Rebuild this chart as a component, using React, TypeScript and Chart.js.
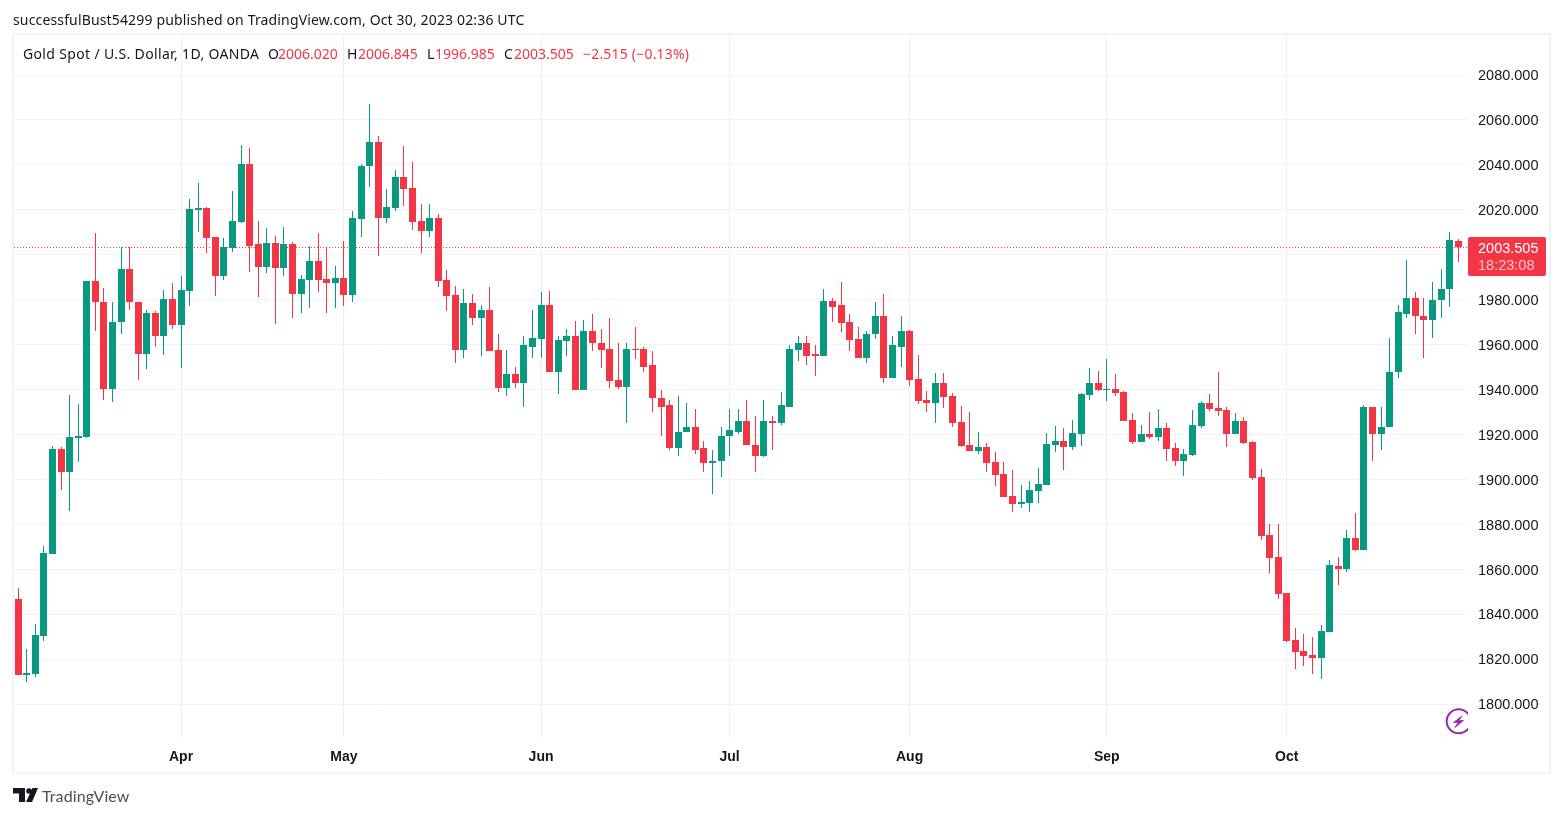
import React, { useEffect, useRef } from "react";
import { Chart, registerables } from "chart.js";

Chart.register(...registerables);

const opens = [
  1847.0, 1813.2, 1813.6, 1830.6, 1867.0, 1913.8, 1903.5, 1918.6, 1919.1, 1988.5,
  1979.2, 1940.4, 1969.9, 1993.9, 1979.2, 1956.1, 1974.3, 1964.0, 1980.5, 1969.0,
  1984.1, 2020.1, 2021.0, 2008.1, 1990.8, 2003.2, 2014.8, 2040.6, 2004.6, 1994.8,
  2005.4, 1994.3, 2004.6, 1982.8, 1989.0, 1997.4, 1989.4, 1987.6, 1989.9, 1982.3,
  2016.1, 2039.3, 2050.4, 2016.6, 2021.0, 2034.8, 2029.9, 2015.2, 2010.8, 2016.6,
  1989.0, 1982.3, 1957.5, 1978.4, 1971.7, 1975.3, 1957.5, 1940.6, 1947.2, 1942.8,
  1959.2, 1962.4, 1977.9, 1948.1, 1961.5, 1963.7, 1939.7, 1965.9, 1961.0, 1957.9,
  1944.1, 1941.0, 1958.3, 1957.9, 1950.8, 1936.5, 1933.0, 1913.9, 1921.0, 1923.6,
  1913.9, 1907.6, 1908.1, 1919.2, 1921.4, 1926.3, 1915.6, 1910.7, 1925.9, 1925.4,
  1932.5, 1957.5, 1961.0, 1955.7, 1954.8, 1979.3, 1977.5, 1969.9, 1962.4, 1954.3,
  1964.6, 1972.6, 1945.0, 1959.2, 1965.9, 1944.6, 1935.3, 1933.9, 1942.8, 1937.0,
  1925.5, 1915.2, 1912.6, 1914.3, 1907.7, 1902.3, 1892.5, 1889.0, 1889.4, 1894.8,
  1897.4, 1915.2, 1917.0, 1914.3, 1920.1, 1937.5, 1942.8, 1939.7, 1940.1, 1938.8,
  1926.4, 1916.6, 1920.1, 1918.8, 1922.8, 1913.9, 1908.1, 1910.8, 1923.7, 1933.9,
  1931.7, 1930.8, 1920.1, 1925.9, 1916.6, 1901.0, 1875.2, 1865.4, 1849.4, 1828.5,
  1823.6, 1821.8, 1820.5, 1832.0, 1861.5, 1860.1, 1873.9, 1868.6, 1932.5, 1920.1,
  1923.2, 1947.7, 1973.9, 1981.0, 1973.0, 1970.8, 1979.7, 1984.6, 2006.02,
];

const highs = [
  1851.9, 1824.8, 1835.9, 1870.6, 1915.1, 1914.6, 1937.8, 1933.8, 1988.5, 2009.9,
  1985.4, 1979.2, 2003.5, 2003.5, 1979.2, 1975.6, 1974.9, 1984.5, 1987.6, 1990.8,
  2025.0, 2032.1, 2021.5, 2008.1, 2007.7, 2028.6, 2049.0, 2047.7, 2015.2, 2012.1,
  2008.6, 2012.6, 2005.9, 1991.2, 2004.1, 2009.5, 2003.7, 1995.2, 2006.3, 2019.7,
  2040.6, 2067.3, 2053.0, 2029.5, 2037.9, 2048.2, 2041.5, 2022.8, 2022.4, 2018.3,
  1993.4, 1986.3, 1984.6, 1982.8, 1977.9, 1985.5, 1965.0, 1957.5, 1949.9, 1963.7,
  1975.3, 1983.3, 1983.7, 1964.1, 1966.8, 1970.4, 1970.8, 1973.5, 1967.2, 1971.7,
  1960.6, 1960.6, 1968.1, 1959.2, 1957.0, 1939.7, 1935.2, 1937.4, 1933.9, 1931.2,
  1917.4, 1913.4, 1923.2, 1931.2, 1931.2, 1935.2, 1928.1, 1935.2, 1928.5, 1938.8,
  1960.1, 1964.1, 1964.1, 1960.1, 1984.6, 1981.0, 1987.7, 1973.9, 1968.1, 1965.9,
  1978.8, 1982.4, 1963.7, 1972.6, 1966.4, 1955.3, 1939.3, 1947.3, 1947.3, 1938.4,
  1932.6, 1930.3, 1921.0, 1916.2, 1912.1, 1907.7, 1904.1, 1897.4, 1899.2, 1905.0,
  1920.6, 1923.7, 1922.8, 1926.4, 1938.4, 1949.5, 1948.2, 1953.5, 1946.8, 1939.3,
  1929.5, 1924.1, 1929.9, 1931.2, 1925.0, 1916.1, 1913.5, 1930.8, 1934.8, 1937.9,
  1947.7, 1932.1, 1929.5, 1927.7, 1917.0, 1904.6, 1880.1, 1880.1, 1849.4, 1833.8,
  1831.1, 1829.8, 1835.2, 1864.1, 1865.5, 1877.5, 1885.1, 1933.4, 1932.5, 1932.1,
  1962.8, 1977.9, 1997.5, 1983.3, 1981.0, 1987.7, 1993.9, 2010.0, 2006.845,
];

const lows = [
  1813.0, 1809.8, 1812.3, 1828.3, 1867.0, 1895.5, 1886.2, 1908.0, 1918.6, 1966.3,
  1935.5, 1934.7, 1965.0, 1975.6, 1944.4, 1949.4, 1959.1, 1955.6, 1967.2, 1949.8,
  1977.4, 2010.3, 2001.0, 1981.9, 1989.0, 2001.4, 2014.3, 1992.5, 1981.4, 1991.7,
  1969.4, 1990.8, 1972.1, 1974.3, 1976.5, 1983.6, 1974.3, 1976.5, 1977.4, 1978.8,
  2008.1, 2030.4, 1999.7, 2014.3, 2019.7, 2021.9, 2011.2, 2001.0, 2008.1, 1985.9,
  1975.2, 1952.1, 1954.3, 1969.0, 1954.8, 1957.0, 1939.2, 1937.0, 1940.6, 1932.5,
  1953.9, 1953.9, 1948.1, 1938.3, 1954.8, 1939.7, 1939.7, 1957.0, 1949.5, 1940.6,
  1940.1, 1925.4, 1953.5, 1948.1, 1930.3, 1919.6, 1913.0, 1910.7, 1921.0, 1911.2,
  1903.2, 1893.4, 1901.0, 1910.3, 1920.5, 1915.2, 1903.2, 1909.9, 1913.0, 1924.5,
  1932.5, 1952.6, 1951.2, 1946.3, 1954.8, 1969.9, 1965.5, 1957.0, 1953.9, 1952.1,
  1962.4, 1942.8, 1945.0, 1950.3, 1941.5, 1933.5, 1929.9, 1925.0, 1931.7, 1923.2,
  1914.3, 1912.6, 1911.2, 1903.2, 1897.0, 1892.1, 1885.4, 1887.2, 1885.4, 1889.4,
  1897.4, 1912.1, 1904.1, 1913.0, 1914.8, 1935.3, 1939.3, 1934.8, 1937.0, 1925.9,
  1915.7, 1916.6, 1917.9, 1917.0, 1908.1, 1905.9, 1901.4, 1910.3, 1922.8, 1930.4,
  1928.1, 1914.3, 1920.1, 1915.7, 1899.7, 1873.0, 1858.3, 1846.7, 1827.6, 1815.6,
  1816.9, 1813.4, 1811.1, 1832.0, 1853.0, 1858.8, 1868.2, 1868.6, 1908.5, 1913.0,
  1923.2, 1945.4, 1972.1, 1964.6, 1953.9, 1963.2, 1972.1, 1977.0, 1996.985,
];

const closes = [
  1813.2, 1814.1, 1831.0, 1867.5, 1913.8, 1903.5, 1919.1, 1919.5, 1988.5, 1978.8,
  1940.4, 1970.3, 1993.9, 1978.8, 1956.1, 1974.3, 1964.0, 1980.5, 1969.0, 1984.5,
  2020.6, 2021.0, 2007.7, 1990.8, 2003.7, 2015.2, 2040.6, 2004.1, 1994.8, 2005.4,
  1994.3, 2004.6, 1982.8, 1989.4, 1997.4, 1989.0, 1987.6, 1989.9, 1982.3, 2016.6,
  2039.7, 2050.4, 2016.6, 2021.5, 2034.8, 2029.5, 2014.8, 2010.8, 2016.6, 1988.5,
  1981.9, 1957.5, 1978.4, 1971.7, 1975.3, 1957.0, 1940.6, 1947.2, 1942.8, 1959.7,
  1962.8, 1977.9, 1948.1, 1961.9, 1963.7, 1939.7, 1965.9, 1960.6, 1957.5, 1943.7,
  1941.0, 1958.3, 1957.5, 1950.3, 1936.1, 1932.5, 1913.9, 1921.4, 1923.6, 1913.4,
  1907.6, 1908.5, 1919.6, 1921.9, 1926.3, 1915.2, 1910.7, 1925.9, 1925.4, 1933.0,
  1957.9, 1961.0, 1955.2, 1954.8, 1979.3, 1977.0, 1969.5, 1961.9, 1954.3, 1965.0,
  1972.6, 1945.0, 1959.7, 1965.9, 1944.2, 1934.8, 1933.9, 1942.8, 1936.6, 1925.0,
  1914.8, 1912.6, 1914.3, 1907.2, 1901.9, 1892.1, 1889.0, 1889.9, 1895.2, 1897.9,
  1915.7, 1917.0, 1914.3, 1920.6, 1937.9, 1942.8, 1939.7, 1940.1, 1938.4, 1925.9,
  1916.6, 1920.1, 1918.8, 1922.8, 1913.5, 1908.1, 1911.2, 1924.1, 1933.9, 1931.2,
  1930.4, 1920.1, 1925.9, 1916.1, 1900.6, 1874.7, 1865.0, 1848.9, 1828.0, 1823.1,
  1821.4, 1820.5, 1832.5, 1861.8, 1860.1, 1873.9, 1868.6, 1932.5, 1920.1, 1923.6,
  1948.1, 1974.4, 1981.0, 1972.6, 1970.8, 1980.1, 1985.0, 2006.4, 2003.505,
];

const monthLabels = ["Apr", "May", "Jun", "Jul", "Aug", "Sep", "Oct"];
const monthBars = [19, 38, 61, 83, 104, 127, 148];
const priceTicks = [1800, 1820, 1840, 1860, 1880, 1900, 1920, 1940, 1960, 1980, 2000, 2020, 2040, 2060, 2080];
const countdown = "18:23:08";

const UP = "#089981";
const DOWN = "#F23645";
const GRID_H = "#f2f2f4";
const GRID_V = "#eeeef1";
const TEXT = "#131722";
const AXIS_FONT = "'Liberation Sans', Arial, sans-serif";
const HEAD_FONT = "'Noto Sans', sans-serif";

const up = (i: number) => closes[i] >= opens[i];
const candleColors = closes.map((_, i) => (up(i) ? UP : DOWN));

const snapPlugin = {
  id: "snap",
  afterDatasetsUpdate(chart: any) {
    chart.data.datasets.forEach((ds: any, di: number) => {
      const meta = chart.getDatasetMeta(di);
      if (ds.type === "line") {
        meta.data.forEach((p: any) => {
          p.y = Math.round(p.y) + 0.5;
        });
        return;
      }
      meta.data.forEach((el: any) => {
        el.x = Math.floor(el.x) + 0.5;
        const top = Math.round(Math.min(el.y, el.base));
        let bottom = Math.round(Math.max(el.y, el.base));
        if (bottom - top < 1) bottom = top + 1;
        el.y = top;
        el.base = bottom;
        el.height = bottom - top;
      });
    });
  },
  beforeDraw(chart: any) {
    if (chart.$labelsNudged) return;
    chart.$labelsNudged = true;
    chart.scales.y.getLabelItems(chart.chartArea).forEach((item: any) => {
      item.options.translation[1] += 1;
    });
  },
};

const priceTagPlugin = {
  id: "priceTag",
  afterDraw(chart: any) {
    const { ctx, scales } = chart;
    const last = closes[closes.length - 1];
    const py = Math.round(scales.y.getPixelForValue(last));
    const left = chart.chartArea.right;
    ctx.save();
    ctx.fillStyle = DOWN;
    ctx.beginPath();
    ctx.roundRect(left, py - 10, 78, 39, [2, 2, 2, 2]);
    ctx.fill();
    ctx.textBaseline = "middle";
    ctx.textAlign = "left";
    ctx.font = `14.5px ${AXIS_FONT}`;
    ctx.fillStyle = "#ffffff";
    ctx.fillText(last.toFixed(3), left + 10, py + 2);
    ctx.fillStyle = "rgba(255,255,255,0.7)";
    ctx.fillText(countdown, left + 10, py + 19);
    ctx.restore();
  },
};

const headSegments = [
  { text: "Gold Spot / U.S. Dollar, 1D, OANDA", left: 23, color: TEXT, spacing: 0.35 },
  { text: "O", left: 268, color: TEXT, spacing: 0 },
  { text: opens[opens.length - 1].toFixed(3), left: 278, color: DOWN, spacing: 0 },
  { text: "H", left: 347, color: TEXT, spacing: 0 },
  { text: highs[highs.length - 1].toFixed(3), left: 358, color: DOWN, spacing: 0 },
  { text: "L", left: 427, color: TEXT, spacing: 0 },
  { text: lows[lows.length - 1].toFixed(3), left: 435, color: DOWN, spacing: 0 },
  { text: "C", left: 504, color: TEXT, spacing: 0 },
  { text: closes[closes.length - 1].toFixed(3), left: 514, color: DOWN, spacing: 0 },
  { text: "\u22122.515 (\u22120.13%)", left: 583, color: DOWN, spacing: 0.2 },
];

export default function App() {
  const ref = useRef<HTMLCanvasElement>(null);

  useEffect(() => {
    const n = closes.length;
    const xMin = -0.49;
    const xMax = 169.15;
    const last = closes[n - 1];
    const chart = new Chart(ref.current as HTMLCanvasElement, {
      type: "bar",
      data: {
        datasets: [
          {
            type: "line",
            data: [
              { x: xMin, y: last },
              { x: xMax, y: last },
            ],
            borderColor: DOWN,
            borderWidth: 1,
            borderDash: [1, 2],
            pointRadius: 0,
            order: 3,
          },
          {
            data: closes.map((_, i) => ({ x: i, y: [lows[i], highs[i]] })),
            backgroundColor: candleColors,
            barThickness: 1,
            grouped: false,
            borderWidth: 0,
            inflateAmount: 0,
            order: 2,
          },
          {
            data: closes.map((_, i) => ({ x: i, y: [opens[i], closes[i]] })),
            backgroundColor: candleColors,
            barThickness: 7,
            grouped: false,
            borderWidth: 0,
            inflateAmount: 0,
            order: 1,
          },
        ] as any,
      },
      options: {
        responsive: false,
        animation: false,
        devicePixelRatio: 1,
        events: [],
        layout: { padding: { left: 14, top: 35, right: 13, bottom: 45 } },
        plugins: { legend: { display: false }, tooltip: { enabled: false }, title: { display: false } },
        scales: {
          x: {
            type: "linear",
            offset: false,
            min: xMin,
            max: xMax,
            afterBuildTicks(scale: any) {
              scale.ticks = monthBars.map((value) => ({ value }));
            },
            afterFit(scale: any) {
              scale.height = 35;
            },
            grid: { color: GRID_V, lineWidth: 1, drawTicks: false, offset: false },
            border: { display: false },
            ticks: {
              autoSkip: false,
              maxRotation: 0,
              padding: 12,
              color: TEXT,
              font: { family: AXIS_FONT, size: 14, weight: "bold" },
              callback: (v: any) => monthLabels[monthBars.indexOf(v)] ?? "",
            },
          },
          y: {
            type: "linear",
            position: "right",
            min: 1785.5,
            max: 2097.8,
            afterBuildTicks(scale: any) {
              scale.ticks = priceTicks.map((value) => ({ value }));
            },
            afterFit(scale: any) {
              scale.width = 82;
            },
            grid: { color: GRID_H, lineWidth: 1, drawTicks: false },
            border: { display: false },
            ticks: {
              padding: 10,
              color: TEXT,
              font: { family: AXIS_FONT, size: 14.5 },
              callback: (v: any) => Number(v).toFixed(3),
            },
          },
        },
      } as any,
      plugins: [snapPlugin, priceTagPlugin],
    });
    return () => chart.destroy();
  }, []);

  return (
    <div style={{ position: "absolute", left: 0, top: 0, width: 1563, height: 817, background: "#fff", overflow: "hidden" }}>
      <canvas ref={ref} width={1563} height={817} style={{ position: "absolute", left: 0, top: 0, width: 1563, height: 817 }} />
      <div
        style={{
          position: "absolute",
          left: 12,
          top: 33,
          width: 1535,
          height: 737,
          border: "2px solid #f0f3fa",
          pointerEvents: "none",
        }}
      />
      <div style={{ position: "absolute", left: 13, top: 10, font: `14px ${HEAD_FONT}`, letterSpacing: 0.15, color: TEXT, whiteSpace: "nowrap" }}>
        successfulBust54299 published on TradingView.com, Oct 30, 2023 02:36 UTC
      </div>
      {headSegments.map((s) => (
        <div
          key={s.left}
          style={{ position: "absolute", left: s.left, top: 44, font: `14px ${HEAD_FONT}`, letterSpacing: s.spacing, color: s.color, whiteSpace: "nowrap" }}
        >
          {s.text}
        </div>
      ))}
      <svg style={{ position: "absolute", left: 1444, top: 708 }} width={24.3} height={28} viewBox="0 0 24.3 28">
        <circle cx={14.7} cy={13.3} r={12} fill="none" stroke="#9c27b0" strokeWidth={2} />
        <path d="M18 8 L9.5 14.5 L14 14.5 L11 19.5 L19.5 12.5 L15 12.5 Z" fill="#9c27b0" stroke="#9c27b0" strokeWidth={0.8} strokeLinejoin="round" />
      </svg>
      <svg style={{ position: "absolute", left: 13, top: 788 }} width={25} height={14} viewBox="0 0 25 14">
        <path d="M0 0 H12 V14 H6 V5.5 H0 Z" fill="#131722" />
        <circle cx={16} cy={3} r={2.8} fill="#131722" />
        <path d="M19.5 0 H25 L19 14 H13 Z" fill="#131722" />
      </svg>
      <div style={{ position: "absolute", left: 42, top: 786, font: `16px Lato, sans-serif`, letterSpacing: 0.1, color: "#4a4e59", whiteSpace: "nowrap" }}>
        TradingView
      </div>
    </div>
  );
}
